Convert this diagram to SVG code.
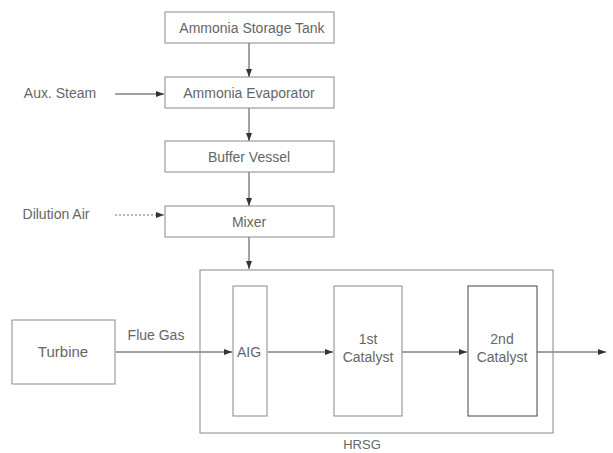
<svg xmlns="http://www.w3.org/2000/svg" width="613" height="453" viewBox="0 0 613 453">
<style>
.box{fill:#fff;stroke:#888;stroke-width:1}
.t{font-family:"Liberation Sans",Arial,sans-serif;font-size:14px;fill:#666;text-anchor:middle}
.c{stroke:#444;stroke-width:1;fill:none;marker-end:url(#ah)}
.cd{stroke:#777;stroke-width:1;fill:none;stroke-dasharray:2 2;marker-end:url(#ah)}
</style>
<defs>
<marker id="ah" markerWidth="8" markerHeight="6" refX="8" refY="3" orient="auto" markerUnits="userSpaceOnUse">
<path d="M0,0 L8,3 L0,6 Z" fill="#333"/>
</marker>
</defs>
<rect width="613" height="453" fill="#fff"/>
<g id="connectors">
<line class="c" x1="249" y1="43" x2="249" y2="77"/>
<line class="c" x1="249" y1="108" x2="249" y2="141"/>
<line class="c" x1="249" y1="172" x2="249" y2="206"/>
<line class="c" x1="249" y1="237" x2="249" y2="269"/>
<line class="c" x1="115" y1="94" x2="164" y2="94"/>
<line class="cd" x1="115" y1="215" x2="164" y2="215"/>
<line class="c" x1="116" y1="352" x2="232" y2="352"/>
<line class="c" x1="268" y1="352" x2="333" y2="352"/>
<line class="c" x1="402" y1="352" x2="467" y2="352"/>
<line class="c" x1="537" y1="352" x2="606" y2="352"/>
<text class="t" x="156" y="340">Flue Gas</text>
</g>
<g id="storage"><rect class="box" x="165" y="12" width="169" height="31"/><text class="t" x="252" y="33">Ammonia Storage Tank</text></g>
<g id="evaporator"><rect class="box" x="165" y="77" width="169" height="31"/><text class="t" x="249" y="98">Ammonia Evaporator</text></g>
<g id="buffer"><rect class="box" x="165" y="141" width="169" height="31"/><text class="t" x="249" y="162">Buffer Vessel</text></g>
<g id="mixer"><rect class="box" x="165" y="206" width="169" height="31"/><text class="t" x="249" y="227">Mixer</text></g>
<g id="aux"><text class="t" x="60" y="98">Aux. Steam</text></g>
<g id="dilution"><text class="t" x="56" y="219">Dilution Air</text></g>
<g id="hrsg"><rect class="box" x="200" y="270" width="353" height="163" style="fill:none"/><text class="t" x="362" y="449" style="font-size:13px">HRSG</text></g>
<g id="turbine"><rect class="box" x="12" y="320" width="103" height="64"/><text class="t" x="63" y="357" style="font-size:15px">Turbine</text></g>
<g id="aig"><rect class="box" x="233" y="286" width="34" height="130"/><text class="t" x="249" y="357">AIG</text></g>
<g id="cat1"><rect class="box" x="334" y="286" width="68" height="130"/><text class="t" x="368" y="344">1st</text><text class="t" x="368" y="362">Catalyst</text></g>
<g id="cat2"><rect class="box" x="468" y="286" width="69" height="130" style="stroke:#444"/><text class="t" x="502" y="344">2nd</text><text class="t" x="502" y="362">Catalyst</text></g>
</svg>
